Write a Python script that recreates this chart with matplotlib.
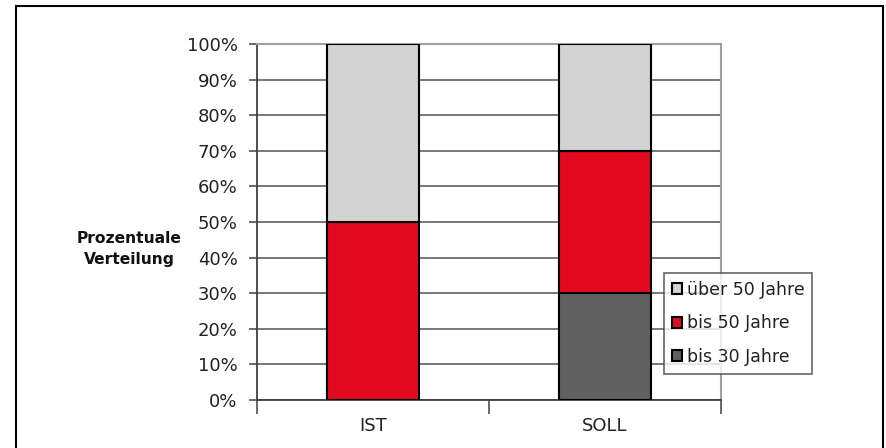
import matplotlib
matplotlib.use("Agg")
import matplotlib.pyplot as plt
from matplotlib.patches import Rectangle, Patch
import numpy as np

categories = ["IST", "SOLL"]
series_names = ["bis 30 Jahre", "bis 50 Jahre", "über 50 Jahre"]
bis_30 = [0, 30]
bis_50 = [50, 40]
ueber_50 = [50, 30]
colors = ["#606060", "#E30A20", "#D3D3D3"]
y_ticks = [0, 10, 20, 30, 40, 50, 60, 70, 80, 90, 100]

plt.rcParams["font.family"] = ["DejaVu Sans"]

fig = plt.figure(figsize=(8.86, 4.48), dpi=100)
ax = fig.add_axes([257 / 886, 1 - 400 / 448, 464 / 886, 356 / 448])

x = np.arange(len(categories))
bottom = np.zeros(len(categories))
for vals, col in zip([bis_30, bis_50, ueber_50], colors):
    ax.bar(x, vals, width=0.4, bottom=bottom, color=col,
           edgecolor="black", linewidth=1.5, zorder=3)
    bottom += np.array(vals)

ax.set_xlim(-0.5, 1.5)
ax.set_ylim(0, 100)
ax.set_yticks(y_ticks)
ax.set_yticklabels([f"{v}%" for v in y_ticks])
ax.yaxis.grid(True, color="#606060", linewidth=1.2, zorder=0)
ax.set_axisbelow(True)

ax.set_xticks([-0.5, 0.5, 1.5])
ax.set_xticklabels([])
ax.set_xticks(x, minor=True)
ax.set_xticklabels(categories, minor=True)
ax.tick_params(axis="x", which="major", direction="out", length=10,
               width=1.2, color="#505050")
ax.tick_params(axis="x", which="minor", length=0, pad=12,
               labelsize=13, labelcolor="#222222")
ax.tick_params(axis="y", direction="out", length=6, width=1.2,
               color="#505050", labelsize=13, labelcolor="#222222", pad=8)

for side in ["left", "bottom"]:
    ax.spines[side].set_color("#404040")
    ax.spines[side].set_linewidth(1.3)
for side in ["top", "right"]:
    ax.spines[side].set_color("#A0A0A0")
    ax.spines[side].set_linewidth(1.5)

fig.text(129 / 886, 1 - 249 / 448, "Prozentuale\nVerteilung", ha="center",
         va="center", fontsize=11.2, fontweight="bold", color="#111111",
         linespacing=1.45)

handles = [Patch(facecolor=c, edgecolor="black", linewidth=1.5)
           for c in colors[::-1]]
leg = fig.legend(handles, series_names[::-1], loc="upper left",
                 bbox_to_anchor=(664 / 886, 1 - 273 / 448), borderaxespad=0,
                 frameon=True, fancybox=False, fontsize=12.5,
                 handlelength=0.6, handleheight=0.6, handletextpad=0.25,
                 labelspacing=0.9, borderpad=0.45)
leg.get_frame().set_edgecolor("#404040")
leg.get_frame().set_linewidth(1.2)
for t in leg.get_texts():
    t.set_color("#222222")

fig.add_artist(Rectangle((16 / 886, -0.02), (883 - 16) / 886, 1.02 - 6 / 448,
                         transform=fig.transFigure, fill=False,
                         edgecolor="black", linewidth=1.5))

fig.savefig("out.png", dpi=100)
